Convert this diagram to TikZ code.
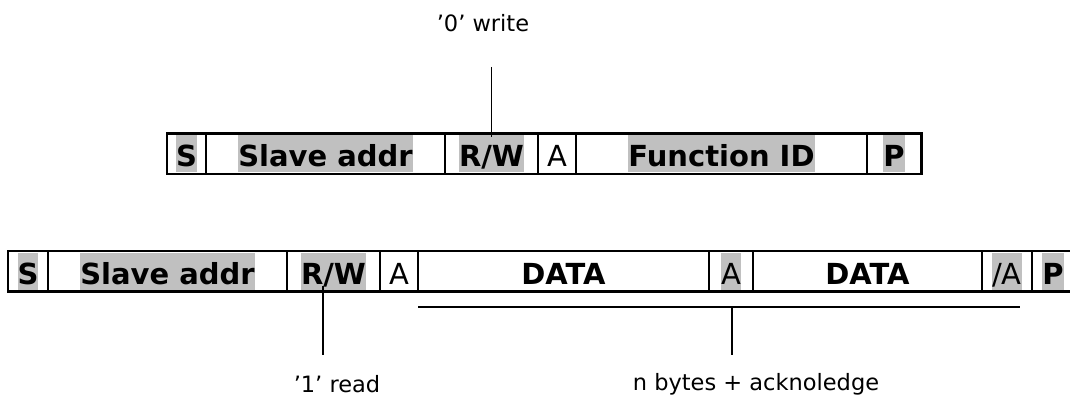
\documentclass[tikz,border=0pt]{standalone}
\usepackage{fontspec}
\setmainfont{DejaVu Sans}
\definecolor{hlgray}{HTML}{C0C0C0}
\setlength{\fboxsep}{0pt}
\newcommand{\hlbox}[1]{\colorbox{hlgray}{\rule[-5.5pt]{0pt}{37pt}#1}}
\newcommand{\plbox}[1]{\rule[-5.5pt]{0pt}{37pt}#1}
\begin{document}
\begin{tikzpicture}[x=1pt,y=-1pt,
  cell/.style={inner sep=0pt, minimum height=40pt, anchor=center,
    font=\fontsize{29}{34}\selectfont},
  cellb/.style={cell, font=\fontsize{29}{34}\selectfont\bfseries},
  frame/.style={line width=2.6pt},
  divider/.style={line width=2pt},
  conn/.style={line width=1.6pt},
  lbl/.style={font=\fontsize{22.5}{27}\selectfont, anchor=base, inner sep=0pt}]
\useasboundingbox (0,0) rectangle (1070,398);

% ---- top frame (write) ----
\node[cellb, minimum width=39pt]  (s1)  at (186.5,154) {\hlbox{S}};
\node[cellb, minimum width=239pt] (sa1) at (325.5,154) {\hlbox{Slave addr}};
\node[cellb, minimum width=93pt]  (rw1) at (491.5,154) {\hlbox{R/W}};
\node[cell,  minimum width=38pt]  (a1)  at (557,154)   {\plbox{A}};
\node[cellb, minimum width=291pt] (f1)  at (721.5,154) {\hlbox{Function ID}};
\node[cellb, minimum width=54pt]  (p1)  at (894,154)   {\hlbox{P}};
\draw[frame] (s1.north west) rectangle (p1.south east);
\foreach \n in {s1,sa1,rw1,a1,f1}
  \draw[divider] (\n.north east) -- (\n.south east);

% ---- bottom frame (read) ----
\node[cellb, minimum width=40pt]  (s2)  at (28,271)    {\hlbox{S}};
\node[cellb, minimum width=239pt] (sa2) at (167.5,271) {\hlbox{Slave addr}};
\node[cellb, minimum width=93pt]  (rw2) at (333.5,271) {\hlbox{R/W}};
\node[cell,  minimum width=38pt]  (a2)  at (399,271)   {\plbox{A}};
\node[cellb, minimum width=291pt] (d2)  at (563.5,271) {\plbox{DATA}};
\node[cell,  minimum width=44pt]  (a3)  at (731,271)   {\hlbox{A}};
\node[cellb, minimum width=229pt] (d3)  at (867.5,271) {\plbox{DATA}};
\node[cell,  minimum width=50pt]  (na)  at (1007,271)  {\hlbox{/A}};
\node[cellb, minimum width=42pt]  (p2)  at (1053,271)  {\hlbox{P}};
\draw[frame] (s2.north west) rectangle (p2.south east);
\foreach \n in {s2,sa2,rw2,a2,d2,a3,d3,na}
  \draw[divider] (\n.north east) -- (\n.south east);

% ---- labels and connectors ----
\node[lbl] (w0) at (483,32) {’0’ write};
\coordinate (t0) at (491.5,67);
\draw[conn] (t0) -- ([yshift=-3pt]rw1.north);

\node[lbl] (r1) at (337,392) {’1’ read};
\coordinate (t1) at (323,355);
\draw[conn] ([xshift=-10.5pt,yshift=5pt]rw2.south) -- (t1);

\coordinate (bl) at (418,307);
\coordinate (br) at (1020,307);
\coordinate (bm) at (732,307);
\coordinate (bt) at (732,355);
\draw[conn] (bl) -- (br);
\draw[conn] (bm) -- (bt);
\node[lbl] (nb) at (756,390) {n bytes + acknoledge};
\end{tikzpicture}
\end{document}
